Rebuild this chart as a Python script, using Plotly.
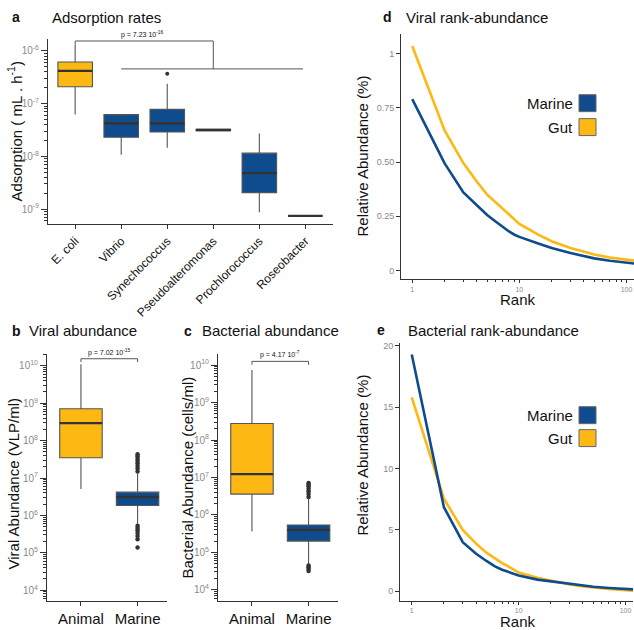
import math
import plotly.graph_objects as go

# ---------------- data ----------------
ads_categories = ["E. coli", "Vibrio", "Synechococcus", "Pseudoalteromonas", "Prochlorococcus", "Roseobacter"]
ads_lower = [6.2e-8, 1.07e-8, 1.45e-8, 3.0e-8, 8.7e-10, 7.4e-10]
ads_q1 = [2.1e-7, 2.3e-8, 2.9e-8, 3.07e-8, 2.05e-9, 7.4e-10]
ads_median = [4.2e-7, 4.25e-8, 4.25e-8, 3.17e-8, 4.8e-9, 7.4e-10]
ads_q3 = [6.2e-7, 6.2e-8, 7.8e-8, 3.27e-8, 1.15e-8, 7.4e-10]
ads_upper = [1.24e-6, 6.2e-8, 2.4e-7, 3.35e-8, 2.7e-8, 7.4e-10]
ads_outlier_cat = ["Synechococcus"]
ads_outlier_val = [3.7e-7]

ab_categories = ["Animal", "Marine"]
vir_lower = [5.1e6, 6.0e5]
vir_q1 = [3.5e7, 1.85e6]
vir_median = [2.95e8, 3.1e6]
vir_q3 = [7.1e8, 4.2e6]
vir_upper = [1.1e10, 1.3e7]
vir_outliers_marine = [1.5e7, 1.8e7, 2.1e7, 2.5e7, 2.9e7, 3.3e7, 3.8e7, 4.3e7,
                       5.3e5, 4.6e5, 4.0e5, 3.4e5, 2.8e5, 2.3e5, 1.4e5]

bac_lower = [3.6e5, 4.9e4]
bac_q1 = [3.6e6, 2.0e5]
bac_median = [1.23e7, 4.0e5]
bac_q3 = [2.75e8, 5.4e5]
bac_upper = [7.4e9, 2.7e6]
bac_outliers_marine = [3.0e6, 3.6e6, 4.3e6, 5.0e6, 5.8e6, 6.5e6, 7.1e6,
                       4.5e4, 4.0e4, 3.6e4, 3.2e4]

p_ads = "p = 7.23 10<sup>-16</sup>"
p_vir = "p = 7.02 10<sup>-15</sup>"
p_bac = "p = 4.17 10<sup>-7</sup>"

ranks = [1, 2, 3, 4, 5, 6, 7, 8, 9, 10, 15, 20, 30, 40, 50, 70, 100, 120]
viral_marine = [0.79, 0.495, 0.36, 0.30, 0.256, 0.226, 0.20, 0.18, 0.165, 0.155,
                0.125, 0.104, 0.081, 0.066, 0.056, 0.045, 0.037, 0.032]
viral_gut = [1.035, 0.647, 0.495, 0.41, 0.35, 0.314, 0.283, 0.256, 0.235, 0.215,
             0.165, 0.135, 0.104, 0.087, 0.074, 0.06, 0.049, 0.045]
bact_marine = [19.3, 6.85, 4.0, 3.06, 2.47, 2.03, 1.76, 1.57, 1.44, 1.28,
               0.95, 0.8, 0.58, 0.45, 0.37, 0.27, 0.18, 0.15]
bact_gut = [15.8, 7.54, 5.0, 3.88, 3.15, 2.66, 2.3, 2.03, 1.76, 1.52,
            1.1, 0.85, 0.55, 0.4, 0.3, 0.18, 0.08, 0.05]

# ---------------- style ----------------
W, H = 634, 630
YEL = "#FDB813"
BLU = "#0E4C8E"
EDGE = "#555555"
MED = "#333333"
AX = "#333333"
TICKGRAY = "#8a8a8a"
FONT = "Liberation Sans, Arial, Helvetica, sans-serif"


def dx(p0, p1):
    return [p0 / W, p1 / W]


def dy(top, bottom):
    return [1 - bottom / H, 1 - top / H]


fig = go.Figure()


def add_boxes(xa, ya, cats, lo, q1, med, q3, up, colors):
    for i, c in enumerate(cats):
        fig.add_trace(go.Box(
            x=[c], q1=[q1[i]], median=[med[i]], q3=[q3[i]],
            lowerfence=[lo[i]], upperfence=[up[i]],
            fillcolor=colors[i], line=dict(color=EDGE, width=1.1),
            whiskerwidth=0, boxpoints=False, showlegend=False,
            xaxis=xa, yaxis=ya, hoverinfo="skip"))
        # thick median bar
        fig.add_trace(go.Box(
            x=[c], q1=[med[i]], median=[med[i]], q3=[med[i]],
            lowerfence=[med[i]], upperfence=[med[i]],
            fillcolor="rgba(0,0,0,0)", line=dict(color=MED, width=2.4),
            whiskerwidth=0, boxpoints=False, showlegend=False,
            xaxis=xa, yaxis=ya, hoverinfo="skip"))


# panel a
add_boxes("x", "y", ads_categories, ads_lower, ads_q1, ads_median, ads_q3, ads_upper,
          [YEL, BLU, BLU, BLU, BLU, BLU])
fig.add_trace(go.Scatter(x=ads_outlier_cat, y=ads_outlier_val, mode="markers",
                         marker=dict(color="#333", size=4), showlegend=False,
                         xaxis="x", yaxis="y", hoverinfo="skip"))

# panel b
add_boxes("x2", "y2", ab_categories, vir_lower, vir_q1, vir_median, vir_q3, vir_upper, [YEL, BLU])
fig.add_trace(go.Scatter(x=["Marine"] * len(vir_outliers_marine), y=vir_outliers_marine,
                         mode="markers", marker=dict(color="#333", size=4.5),
                         showlegend=False, xaxis="x2", yaxis="y2", hoverinfo="skip"))
# panel c
add_boxes("x3", "y3", ab_categories, bac_lower, bac_q1, bac_median, bac_q3, bac_upper, [YEL, BLU])
fig.add_trace(go.Scatter(x=["Marine"] * len(bac_outliers_marine), y=bac_outliers_marine,
                         mode="markers", marker=dict(color="#333", size=4.5),
                         showlegend=False, xaxis="x3", yaxis="y3", hoverinfo="skip"))

# panel d / e
for xa, ya, m, g in [("x4", "y4", viral_marine, viral_gut), ("x5", "y5", bact_marine, bact_gut)]:
    fig.add_trace(go.Scatter(x=ranks, y=g, mode="lines", line=dict(color=YEL, width=2.6),
                             showlegend=False, xaxis=xa, yaxis=ya, hoverinfo="skip"))
    fig.add_trace(go.Scatter(x=ranks, y=m, mode="lines", line=dict(color=BLU, width=2.6),
                             showlegend=False, xaxis=xa, yaxis=ya, hoverinfo="skip"))

# ---------------- axes ----------------
base = dict(showline=True, linecolor=AX, linewidth=1, ticks="outside", tickcolor=AX,
            ticklen=4, tickwidth=1, showgrid=False, zeroline=False, mirror=False)


def log_minor(k0, k1):
    return [m * 10 ** k for k in range(k0, k1) for m in range(2, 10)]


def pow_ticks(k0, k1):
    vals = [10.0 ** k for k in range(k0, k1 + 1)]
    txt = ["10<sup>%d</sup>" % k for k in range(k0, k1 + 1)]
    return vals, txt


av, at = pow_ticks(-9, -6)
bv, bt = pow_ticks(4, 10)

fig.update_layout(
    xaxis=dict(base, domain=dx(48, 333), anchor="y", type="category",
               categoryorder="array", categoryarray=ads_categories, range=[-0.59, 5.6],
               tickangle=-45, tickfont=dict(size=12, color="#111")),
    yaxis=dict(base, domain=dy(37, 223), anchor="x", type="log", range=[-9.29, -5.77],
               tickvals=av, ticktext=at, tickfont=dict(size=10, color=TICKGRAY), ticklen=6,
               minor=dict(ticks="outside", ticklen=3, tickcolor=AX, tickvals=log_minor(-10, -5))),
    xaxis2=dict(base, domain=dx(47, 167), anchor="y2", type="category",
                categoryorder="array", categoryarray=ab_categories, range=[-0.6, 1.52],
                tickfont=dict(size=15, color="#111")),
    yaxis2=dict(base, domain=dy(353, 601), anchor="x2", type="log", range=[3.71, 10.32],
                tickvals=bv, ticktext=bt, tickfont=dict(size=10, color=TICKGRAY), ticklen=6,
                minor=dict(ticks="outside", ticklen=3, tickcolor=AX, tickvals=log_minor(3, 11))),
    xaxis3=dict(base, domain=dx(218, 338), anchor="y3", type="category",
                categoryorder="array", categoryarray=ab_categories, range=[-0.6, 1.52],
                tickfont=dict(size=15, color="#111")),
    yaxis3=dict(base, domain=dy(353, 601), anchor="x3", type="log", range=[3.7, 10.3],
                tickvals=bv, ticktext=bt, tickfont=dict(size=10, color=TICKGRAY), ticklen=6,
                minor=dict(ticks="outside", ticklen=3, tickcolor=AX, tickvals=log_minor(3, 11))),
    xaxis4=dict(base, domain=dx(401, 634), anchor="y4", type="log", range=[-0.105, 2.07],
                tickvals=[1, 10, 100], ticktext=["1", "10", "100"], ticklen=3,
                tickfont=dict(size=7, color=TICKGRAY),
                minor=dict(ticks="outside", ticklen=2, tickcolor=AX, tickvals=log_minor(0, 3))),
    yaxis4=dict(base, domain=dy(31.7, 278.3), anchor="x4", range=[-0.041, 1.092],
                tickvals=[0, 0.25, 0.5, 0.75, 1], ticktext=["0", "0.25", "0.50", "0.75", "1"],
                tickfont=dict(size=9, color=TICKGRAY)),
    xaxis5=dict(base, domain=dx(400, 633), anchor="y5", type="log", range=[-0.11, 2.07],
                tickvals=[1, 10, 100], ticktext=["1", "10", "100"], ticklen=3,
                tickfont=dict(size=7, color=TICKGRAY),
                minor=dict(ticks="outside", ticklen=2, tickcolor=AX, tickvals=log_minor(0, 3))),
    yaxis5=dict(base, domain=dy(342, 601), anchor="x5", range=[-0.8, 20.24],
                tickvals=[0, 5, 10, 15, 20], tickfont=dict(size=9, color=TICKGRAY)),
)

# ---------------- brackets ----------------
shapes = []
line = dict(color="#555", width=1)


def seg(xr, yr, x0, y0, x1, y1):
    shapes.append(dict(type="line", xref=xr, yref=yr, x0=x0, y0=y0, x1=x1, y1=y1, line=line))


# panel a: E. coli vs the rest
seg("x", "y", 0, 10 ** -5.81, 3, 10 ** -5.81)
seg("x", "y", 0, 10 ** -5.81, 0, 10 ** -5.91)
seg("x", "y", 3, 10 ** -5.81, 3, 10 ** -6.34)
seg("x", "y", 1, 10 ** -6.34, 4.95, 10 ** -6.34)
# panel b
seg("x2", "y2", 0, 10 ** 10.19, 1, 10 ** 10.19)
seg("x2", "y2", 0, 10 ** 10.19, 0, 10 ** 10.1)
seg("x2", "y2", 1, 10 ** 10.19, 1, 10 ** 10.1)
# panel c
seg("x3", "y3", 0, 10 ** 10.1, 1, 10 ** 10.1)
seg("x3", "y3", 0, 10 ** 10.1, 0, 10 ** 10.01)
seg("x3", "y3", 1, 10 ** 10.1, 1, 10 ** 10.01)

# legend squares (panels d and e)
for top, col in [(93, BLU), (117, YEL), (406, BLU), (429, YEL)]:
    shapes.append(dict(type="rect", xref="paper", yref="paper",
                       x0=579 / W, x1=596 / W, y0=1 - (top + 17) / H, y1=1 - top / H,
                       fillcolor=col, line=dict(color="#666", width=1)))

fig.update_layout(shapes=shapes)

# ---------------- annotations ----------------
ann = []


def txt(x, y, s, size, xanchor="left", yanchor="middle", color="#111", angle=0, xref="paper", yref="paper"):
    ann.append(dict(x=x, y=y, xref=xref, yref=yref, text=s, showarrow=False,
                    xanchor=xanchor, yanchor=yanchor, textangle=angle,
                    font=dict(size=size, color=color, family=FONT)))


def P(xp, yp):
    return xp / W, 1 - yp / H


# p-values
txt(1.47, -5.81, p_ads, 7, xanchor="center", yanchor="bottom", xref="x", yref="y")
txt(0.5, 10.19, p_vir, 7, xanchor="center", yanchor="bottom", xref="x2", yref="y2")
txt(0.5, 10.1, p_bac, 7, xanchor="center", yanchor="bottom", xref="x3", yref="y3")

# panel titles
for letter, lx, tx, yy, title in [("a", 10, 50, 15.5, "Adsorption rates"),
                                  ("b", 10, 27, 330, "Viral abundance"),
                                  ("c", 182, 200, 330, "Bacterial abundance"),
                                  ("d", 381, 404, 15.5, "Viral rank-abundance"),
                                  ("e", 375, 406, 329.5, "Bacterial rank-abundance")]:
    x, y = P(lx, yy)
    txt(x, y, "<b>%s</b>" % letter, 14)
    x, y = P(tx, yy)
    txt(x, y, title, 15)

# axis titles
x, y = P(15, 130)
txt(x, y, "Adsorption ( mL . h<sup>-1</sup>)", 15, xanchor="center", angle=-90)
x, y = P(13, 484)
txt(x, y, "Viral Abundance (VLP/ml)", 15, xanchor="center", angle=-90)
x, y = P(187, 477)
txt(x, y, "Bacterial Abundance (cells/ml)", 15, xanchor="center", angle=-90)
x, y = P(363, 155)
txt(x, y, "Relative Abundance (%)", 15, xanchor="center", angle=-90)
x, y = P(363, 455)
txt(x, y, "Relative Abundance (%)", 15, xanchor="center", angle=-90)
x, y = P(518, 298.5)
txt(x, y, "Rank", 15, xanchor="center")
x, y = P(518, 621)
txt(x, y, "Rank", 15, xanchor="center")

# legend labels
for yy, s in [(101.5, "Marine"), (125.5, "Gut"), (414.5, "Marine"), (437.5, "Gut")]:
    x, y = P(575, yy)
    txt(x, y, s, 15, xanchor="right")

fig.update_layout(
    annotations=ann,
    width=W, height=H, margin=dict(l=0, r=0, t=0, b=0),
    paper_bgcolor="white", plot_bgcolor="white",
    boxmode="overlay", boxgap=0.25, boxgroupgap=0,
    font=dict(family=FONT, color="#111"),
    showlegend=False,
)

fig.write_html("out.html",
               config={"displayModeBar": False},
               post_script="document.body.style.margin='0';document.body.style.padding='0';"
                           "document.documentElement.style.overflow='hidden';")
